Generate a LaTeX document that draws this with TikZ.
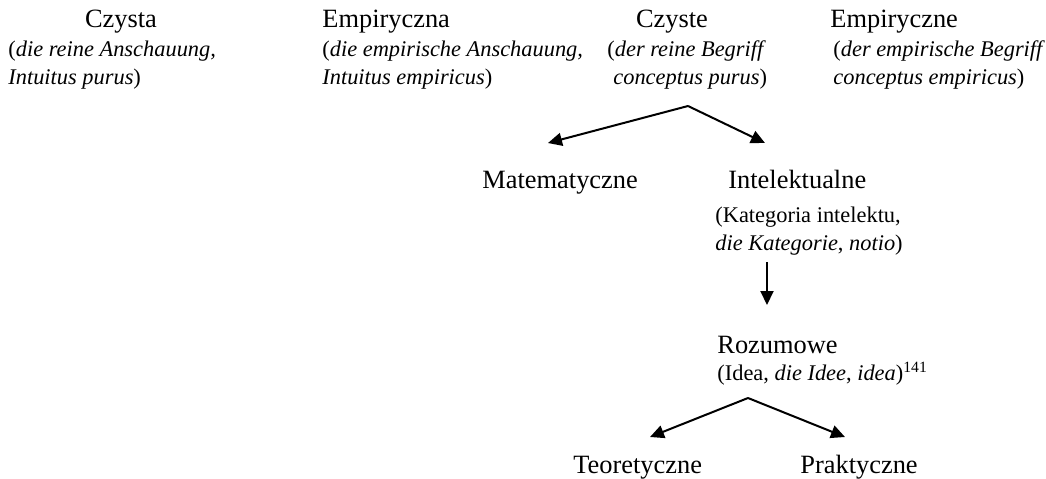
\documentclass[tikz,border=0pt]{standalone}
\usepackage{fontspec}
\setmainfont{Liberation Serif}
\usetikzlibrary{arrows.meta}
\begin{document}
\begin{tikzpicture}[
            x=0.5pt, y=-0.5pt,
            title/.style={inner sep=0pt, font=\fontsize{13.2}{16}\selectfont},
            gloss/.style={inner sep=0pt, align=left, font=\fontsize{11.2}{14}\selectfont},
            arr/.style={-{Triangle[length=7pt,width=6.5pt]}, line width=1pt}
        ]
        \useasboundingbox (0,0) rectangle (1046,478);

        \node[title, anchor=base] (czysta) at (121,27) {Czysta};
        \node[gloss, anchor=base west] (czystaG) at (8,84) {(\textit{die reine Anschauung,}\\\textit{Intuitus purus})};

        \node[title, anchor=base west] (empa) at (322,27) {Empiryczna};
        \node[gloss, anchor=base west] (empaG) at (322,84) {(\textit{die empirische Anschauung,}\\\textit{Intuitus empiricus})};

        \node[title, anchor=base] (czyste) at (672,27) {Czyste};
        \node[gloss, anchor=base west] (czysteG) at (607,84) {(\textit{der reine Begriff}\\\hspace*{3pt}\textit{conceptus purus})};

        \node[title, anchor=base west] (empe) at (830,27) {Empiryczne};
        \node[gloss, anchor=base west] (empeG) at (833,84) {(\textit{der empirische Begriff}\\\textit{conceptus empiricus})};

        \node[title, anchor=base west] (mat) at (482,188) {Matematyczne};
        \node[title, anchor=base west] (intel) at (728,188) {Intelektualne};
        \node[gloss, anchor=base west] (intelG) at (715,250) {(Kategoria intelektu,\\\textit{die Kategorie}, \textit{notio})};

        \node[title, anchor=base west] (roz) at (717,353) {Rozumowe};
        \node[gloss, anchor=base west] (rozG) at (717,380) {(Idea, \textit{die Idee}, \textit{idea})\textsuperscript{141}};

        \node[title, anchor=base west] (teo) at (573,473) {Teoretyczne};
        \node[title, anchor=base west] (prak) at (800,473) {Praktyczne};

        \coordinate (fork1) at (688,106);
        \coordinate (matIn) at (548,143);
        \coordinate (intelIn) at (765,143);
        \coordinate (intelOut) at (767,262);
        \coordinate (rozIn) at (767,305);
        \coordinate (fork2) at (748,398);
        \coordinate (teoIn) at (650,437);
        \coordinate (prakIn) at (845,437);

        \draw[arr] (fork1) -- (matIn);
        \draw[arr] (fork1) -- (intelIn);
        \draw[arr] (intelOut) -- (rozIn);
        \draw[arr] (fork2) -- (teoIn);
        \draw[arr] (fork2) -- (prakIn);
    \end{tikzpicture}
\end{document}
